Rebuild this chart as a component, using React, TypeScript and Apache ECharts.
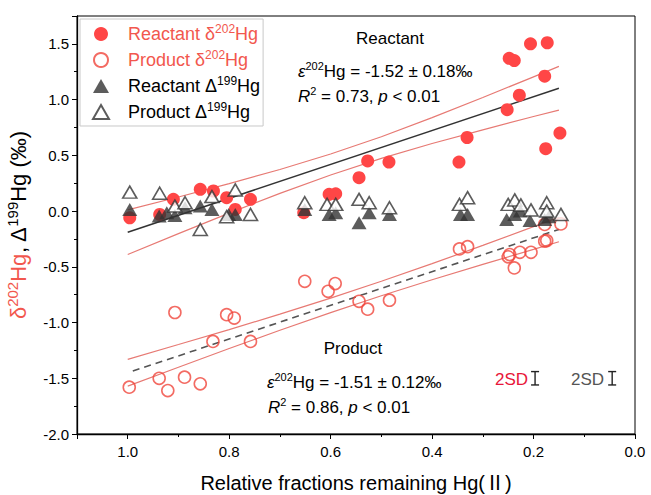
import React, { useEffect, useRef } from "react";
import * as echarts from "echarts";

// ---- data (f = relative fraction remaining, value in ‰) ----
const reactantD202: number[][] = [
  [0.996, -0.06], [0.937, -0.03], [0.91, 0.105], [0.857, 0.195], [0.831, 0.18],
  [0.805, 0.12], [0.788, 0.015], [0.758, 0.105], [0.653, -0.015], [0.603, 0.15],
  [0.59, 0.155], [0.544, 0.3], [0.527, 0.45], [0.485, 0.44], [0.347, 0.44],
  [0.331, 0.66], [0.252, 0.91], [0.248, 1.37], [0.238, 1.35], [0.228, 1.04],
  [0.206, 1.5], [0.178, 1.21], [0.176, 0.56], [0.173, 1.51], [0.148, 0.7],
];
const productD202: number[][] = [
  [0.997, -1.58], [0.938, -1.5], [0.921, -1.61], [0.888, -1.49], [0.857, -1.55],
  [0.907, -0.91], [0.832, -1.17], [0.805, -0.93], [0.79, -0.96], [0.758, -1.17],
  [0.651, -0.63], [0.605, -0.72], [0.591, -0.65], [0.544, -0.81], [0.527, -0.88],
  [0.484, -0.8], [0.346, -0.34], [0.33, -0.32], [0.25, -0.41], [0.247, -0.39],
  [0.238, -0.51], [0.227, -0.37], [0.205, -0.37], [0.178, -0.27], [0.174, -0.265],
  [0.178, -0.12], [0.146, -0.115],
];
const reactantD199: number[][] = [
  [0.996, 0.015], [0.938, -0.045], [0.923, -0.015], [0.907, -0.04], [0.887, 0.03],
  [0.857, 0.045], [0.834, 0.015], [0.801, -0.03], [0.788, -0.03], [0.651, 0.015],
  [0.603, -0.03], [0.59, -0.015], [0.544, -0.105], [0.524, -0.015], [0.484, -0.03],
  [0.344, -0.03], [0.33, -0.03], [0.253, -0.075], [0.237, -0.03], [0.226, 0.0],
  [0.207, -0.085], [0.178, -0.075], [0.17, -0.05],
];
const productD199: number[][] = [
  [0.996, 0.17], [0.937, 0.16], [0.907, 0.045], [0.887, 0.075], [0.857, -0.165],
  [0.834, 0.13], [0.805, -0.05], [0.788, 0.19], [0.758, -0.03], [0.651, 0.075],
  [0.607, 0.06], [0.59, 0.06], [0.544, 0.105], [0.524, 0.075], [0.484, 0.03],
  [0.346, 0.06], [0.33, 0.12], [0.25, 0.06], [0.237, 0.1], [0.225, 0.055],
  [0.205, 0.01], [0.174, 0.075], [0.174, 0.0], [0.146, -0.03],
];

// regression lines and 95% bands
const reactantFit: number[][] = [[1.0, -0.19], [0.15, 1.102]];
const reactantUpper: number[][] = [
  [1.0, 0.01], [0.9, 0.126], [0.8, 0.246], [0.7, 0.373], [0.6, 0.512],
  [0.5, 0.667], [0.4, 0.838], [0.3, 1.019], [0.2, 1.204], [0.15, 1.298],
];
const reactantLower: number[][] = [
  [1.0, -0.39], [0.9, -0.202], [0.8, -0.018], [0.7, 0.159], [0.6, 0.324],
  [0.5, 0.473], [0.4, 0.606], [0.3, 0.729], [0.2, 0.848], [0.15, 0.906],
];
const productFit: number[][] = [[0.99, -1.435], [0.15, -0.165]];
const productUpper: number[][] = [
  [1.0, -1.33], [0.9, -1.197], [0.8, -1.063], [0.7, -0.925], [0.6, -0.781],
  [0.5, -0.63], [0.4, -0.472], [0.3, -0.308], [0.2, -0.14], [0.15, -0.055],
];
const productLower: number[][] = [
  [1.0, -1.57], [0.9, -1.401], [0.8, -1.233], [0.7, -1.069], [0.6, -0.911],
  [0.5, -0.76], [0.4, -0.616], [0.3, -0.478], [0.2, -0.344], [0.15, -0.275],
];

// 2SD error bars: [f, centre, full height]
const sdBars: number[][] = [[0.197, -1.5, 0.12], [0.045, -1.5, 0.12]];

const xTicks = [0, 0.2, 0.4, 0.6, 0.8, 1.0];
const yTicks = [-2.0, -1.5, -1.0, -0.5, 0.0, 0.5, 1.0, 1.5];

const FONT = "'Liberation Sans', Arial, 'Noto Sans CJK SC', sans-serif";
const RED = "#FF4646";
const RED_TEXT = "#F2574E";
const BAND = "#E77A74";
const DARK = "#333333";

function rich(size: number, color: string, supRatio = 0.66, spacer = 15) {
  const sup = Math.round(size * supRatio);
  return {
    n: { fontSize: size, color, fontFamily: FONT, lineHeight: size + 4 },
    s: { fontSize: sup, color, fontFamily: FONT, verticalAlign: "top", lineHeight: sup },
    i: { fontSize: size, color, fontFamily: FONT, fontStyle: "italic", lineHeight: size + 4 },
    r: { fontSize: size, color: RED_TEXT, fontFamily: FONT, lineHeight: size + 4 },
    rs: { fontSize: sup, color: RED_TEXT, fontFamily: FONT, verticalAlign: "top", lineHeight: sup },
    sp: { width: spacer, fontSize: size, lineHeight: size + 4 },
  };
}

export default function App() {
  const ref = useRef<HTMLDivElement>(null);
  useEffect(() => {
    if (!ref.current) return;
    const chart = echarts.init(ref.current, undefined, { renderer: "svg" });
    const scatterBase = { type: "scatter" as const, z: 5 };
    const legendNames: Record<string, string> = {
      "Reactant δ202Hg": "{sp|}{r|Reactant δ}{rs|202}{r|Hg}",
      "Product δ202Hg": "{sp|}{r|Product δ}{rs|202}{r|Hg}",
      "Reactant Δ199Hg": "{sp|}{n|Reactant Δ}{s|199}{n|Hg}",
      "Product Δ199Hg": "{sp|}{n|Product Δ}{s|199}{n|Hg}",
    };
    const isTick = (v: number, list: number[]) => list.some((t) => Math.abs(t - v) < 1e-6);
    const bandLine = (data: number[][]) => ({
      type: "line" as const, data, symbol: "none", silent: true, z: 2,
      lineStyle: { color: BAND, width: 1.2 },
    });
    const ann = (x: number, y: number, text: string, align = "left") => ({
      type: "text", x, y, style: { text, rich: rich(17, "#000"), align, verticalAlign: "middle" },
    });
    const option: any = {
      animation: false,
      backgroundColor: "#fff",
      grid: {
        left: 77, right: 16, top: 16, bottom: 61, show: true, borderColor: "#000", borderWidth: 1,
        containLabel: false, outerBoundsMode: "none",
      },
      xAxis: {
        type: "value", inverse: true, min: 0, max: 1.1, interval: 0.2,
        name: "Relative fractions remaining Hg(Ⅱ)", nameLocation: "middle", nameGap: 39,
        nameTextStyle: { fontSize: 20, color: "#000", fontFamily: FONT },
        axisLine: { show: true, onZero: false, lineStyle: { color: "#000", width: 1.3 } },
        axisTick: { show: true, inside: false, length: 5, lineStyle: { color: "#000" } },
        minorTick: { show: true, splitNumber: 2, length: 3, lineStyle: { color: "#000" } },
        splitLine: { show: false },
        axisLabel: {
          fontSize: 15, color: "#000", fontFamily: FONT, margin: 10,
          formatter: (v: number) => (isTick(v, xTicks) ? v.toFixed(1) : ""),
        },
      },
      yAxis: {
        type: "value", min: -2.0, max: 1.75, interval: 0.5,
        name: "{r|δ}{rs|202}{r|Hg}{n|, Δ}{s|199}{n|Hg (‰)}", nameLocation: "middle", nameGap: 46,
        nameRotate: 90,
        nameTextStyle: { fontSize: 22, color: "#000", fontFamily: FONT, rich: rich(22, "#000", 0.68) },
        axisLine: { show: true, onZero: false, lineStyle: { color: "#000", width: 1.3 } },
        axisTick: { show: true, inside: false, length: 5, lineStyle: { color: "#000" } },
        minorTick: { show: true, splitNumber: 2, length: 3, lineStyle: { color: "#000" } },
        splitLine: { show: false },
        axisLabel: {
          fontSize: 15, color: "#000", fontFamily: FONT, margin: 8,
          formatter: (v: number) => (isTick(v, yTicks) ? v.toFixed(1) : ""),
        },
      },
      legend: {
        orient: "vertical", left: 80, top: 19,
        data: Object.keys(legendNames),
        itemWidth: 16, itemHeight: 14, itemGap: 6,
        padding: [4, 3, 5, 12],
        borderColor: "#c8c8c8", borderWidth: 1,
        formatter: (name: string) => legendNames[name],
        textStyle: { fontSize: 18, fontFamily: FONT, rich: rich(18, "#000", 0.66, 14) },
      },
      graphic: [
        { type: "text", x: 390, y: 38, style: { text: "Reactant", fontSize: 17, fontFamily: FONT, fill: "#000", align: "center", verticalAlign: "middle" } },
        ann(298, 71, "{i|ε}{s|202}{n|Hg = -1.52 ± 0.18‰}"),
        ann(298, 96, "{i|R}{s|2}{n| = 0.73, }{i|p}{n| < 0.01}"),
        { type: "text", x: 353, y: 348, style: { text: "Product", fontSize: 17, fontFamily: FONT, fill: "#000", align: "center", verticalAlign: "middle" } },
        ann(267, 382, "{i|ε}{s|202}{n|Hg = -1.51 ± 0.12‰}"),
        ann(268, 407, "{i|R}{s|2}{n| = 0.86, }{i|p}{n| < 0.01}"),
        { type: "text", x: 528, y: 379, style: { text: "2SD", fontSize: 17, fontFamily: FONT, fill: "#E8163A", align: "right", verticalAlign: "middle" } },
        { type: "text", x: 604, y: 379, style: { text: "2SD", fontSize: 17, fontFamily: FONT, fill: "#555", align: "right", verticalAlign: "middle" } },
      ],
      series: [
        bandLine(reactantUpper),
        bandLine(reactantLower),
        { type: "line", data: reactantFit, symbol: "none", silent: true, z: 3, lineStyle: { color: DARK, width: 1.5 } },
        bandLine(productUpper),
        bandLine(productLower),
        { type: "line", data: productFit, symbol: "none", silent: true, z: 3, lineStyle: { color: "#555", width: 1.6, type: [7, 5] } },
        {
          ...scatterBase, name: "Reactant δ202Hg", data: reactantD202, symbol: "circle", symbolSize: 13,
          itemStyle: { color: RED, opacity: 1 },
        },
        {
          ...scatterBase, name: "Product δ202Hg", data: productD202, symbol: "circle", symbolSize: 12,
          itemStyle: { color: "rgba(255,255,255,0)", borderColor: "#F0463C", borderWidth: 1.6 },
        },
        {
          ...scatterBase, name: "Reactant Δ199Hg", data: reactantD199, symbol: "triangle", symbolSize: [15, 13],
          itemStyle: { color: DARK },
        },
        {
          ...scatterBase, name: "Product Δ199Hg", data: productD199, symbol: "triangle", symbolSize: [14, 12],
          itemStyle: { color: "#fff", borderColor: DARK, borderWidth: 1.6 },
        },
        {
          type: "custom", data: sdBars, silent: true, z: 6,
          renderItem: (_p: any, api: any) => {
            const f = api.value(0), c = api.value(1), h = api.value(2);
            const top = api.coord([f, c + h / 2]);
            const bot = api.coord([f, c - h / 2]);
            const cap = 4;
            const st = { stroke: "#222", lineWidth: 1.4 };
            return {
              type: "group",
              children: [
                { type: "line", shape: { x1: top[0], y1: top[1], x2: bot[0], y2: bot[1] }, style: st },
                { type: "line", shape: { x1: top[0] - cap, y1: top[1], x2: top[0] + cap, y2: top[1] }, style: st },
                { type: "line", shape: { x1: bot[0] - cap, y1: bot[1], x2: bot[0] + cap, y2: bot[1] }, style: st },
              ],
            };
          },
        },
      ],
    };
    chart.setOption(option);
    return () => chart.dispose();
  }, []);
  return <div ref={ref} style={{ width: 651, height: 495, position: "absolute", left: 0, top: 0 }} />;
}
